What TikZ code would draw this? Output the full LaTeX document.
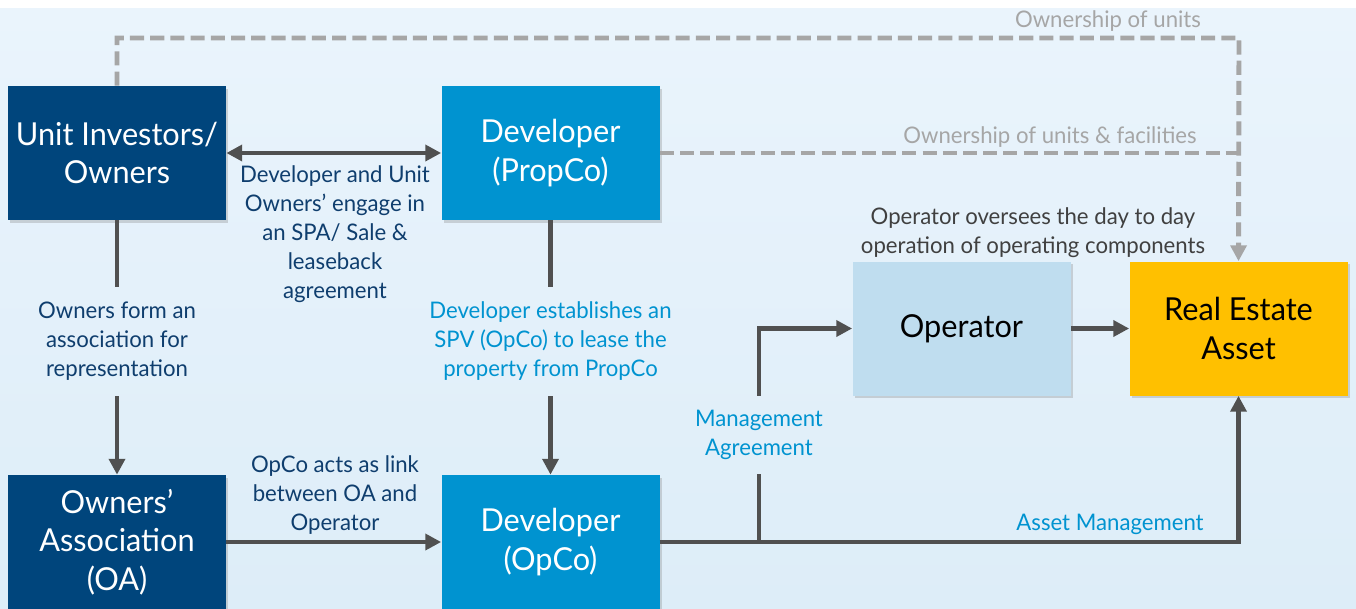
\documentclass[tikz,border=0pt]{standalone}
\usepackage{fontspec}
\setmainfont[FakeStretch=0.97]{Lato}
\usetikzlibrary{arrows.meta,shadows}
\definecolor{oadark}{HTML}{00457C}
\definecolor{devblue}{HTML}{0093D0}
\definecolor{oplight}{HTML}{BFDDEF}
\definecolor{assetgold}{HTML}{FFC000}
\definecolor{linkgrey}{HTML}{505050}
\definecolor{owngrey}{HTML}{A6A6A6}
\definecolor{navytxt}{HTML}{0F3E6E}
\definecolor{opgrey}{HTML}{404040}
\definecolor{bgtop}{HTML}{EAF4FC}
\definecolor{bgbot}{HTML}{DDEDF8}
\tikzset{
  party/.style={rectangle, minimum width=43.6mm, minimum height=26.8mm, align=center,
    font=\fontsize{18}{22}\selectfont, text=white,
    drop shadow={shadow xshift=1.2pt, shadow yshift=-1.5pt, opacity=0.3}},
  note/.style={align=center, font=\fontsize{13}{16.5}\selectfont, text=navytxt, inner sep=0pt},
  flow/.style={draw=linkgrey, line width=2.8pt},
  own/.style={draw=owngrey, line width=2.8pt, dash pattern=on 8pt off 3.5pt},
}
\begin{document}
\begin{tikzpicture}[x=0.2mm,y=-0.2mm,>={Triangle[length=9pt,width=9pt]}]
    \useasboundingbox (0,0) rectangle (1356,608);
    \fill[white] (0,0) rectangle (1356,608);
    \shade[top color=bgtop,bottom color=bgbot] (0,8) rectangle (1356,608);
    % parties
    \path (117,153) node[party,fill=oadark](inv){Unit Investors/\\Owners};
    \path (550.5,153) node[party,fill=devblue](propco){Developer\\(PropCo)};
    \path (117,542) node[party,fill=oadark](oa){Owners’\\Association\\(OA)};
    \path (550.5,542) node[party,fill=devblue](opco){Developer\\(OpCo)};
    \path (961.5,328.5) node[party,fill=oplight,text=black](operator){Operator};
    \path (1238.5,328.5) node[party,fill=assetgold,text=black](asset){Real Estate\\Asset};
    % texts
    \path (117,341.5) node[note,minimum height=21.8mm](formtxt){Owners form an\\association for\\representation};
    \path (550.5,341.5) node[note,text=devblue,minimum height=21.8mm](spvtxt){Developer establishes an\\SPV (OpCo) to lease the\\property from PropCo};
    \path (335,234.5) node[note](spatxt){Developer and Unit\\Owners’ engage in\\an SPA/ Sale \&\\leaseback\\agreement};
    \path (335,495.5) node[note](linktxt){OpCo acts as link\\between OA and\\Operator};
    \path (759,435) node[note,text=devblue,minimum height=15.6mm](mgmttxt){Management\\Agreement};
    \path (1110,524) node[note,text=devblue](amtxt){Asset Management};
    \path (1033,233) node[note,text=opgrey](optxt){Operator oversees the day to day\\operation of operating components};
    \path (1108,21) node[note,text=owngrey](ownu){Ownership of units};
    \path (1050,137) node[note,text=owngrey](ownuf){Ownership of units \& facilities};
    \coordinate (topR) at (1239,38);
    \coordinate (joinR) at (1239,153);
    \coordinate (mgmtjoin) at (759,542);
    % links
    \draw[flow,<->] (inv.east) -- (propco.west);
    \draw[flow] (inv) -- (formtxt);
    \draw[flow,->] (formtxt) -- (oa);
    \draw[flow] (propco) -- (spvtxt);
    \draw[flow,->] (spvtxt) -- (opco);
    \draw[flow,->] (oa) -- (opco);
    \draw[flow,->] (opco.east) -| (asset.south);
    \draw[flow] (mgmtjoin) -- (mgmttxt);
    \draw[flow,->] (mgmttxt.north) |- (operator.west);
    \draw[flow,->] (operator) -- (asset);
    % ownership
    \draw[own,->] (inv.north) |- (topR) -- (asset.north);
    \draw[own] (propco.east) -- (joinR);
  \end{tikzpicture}
\end{document}
